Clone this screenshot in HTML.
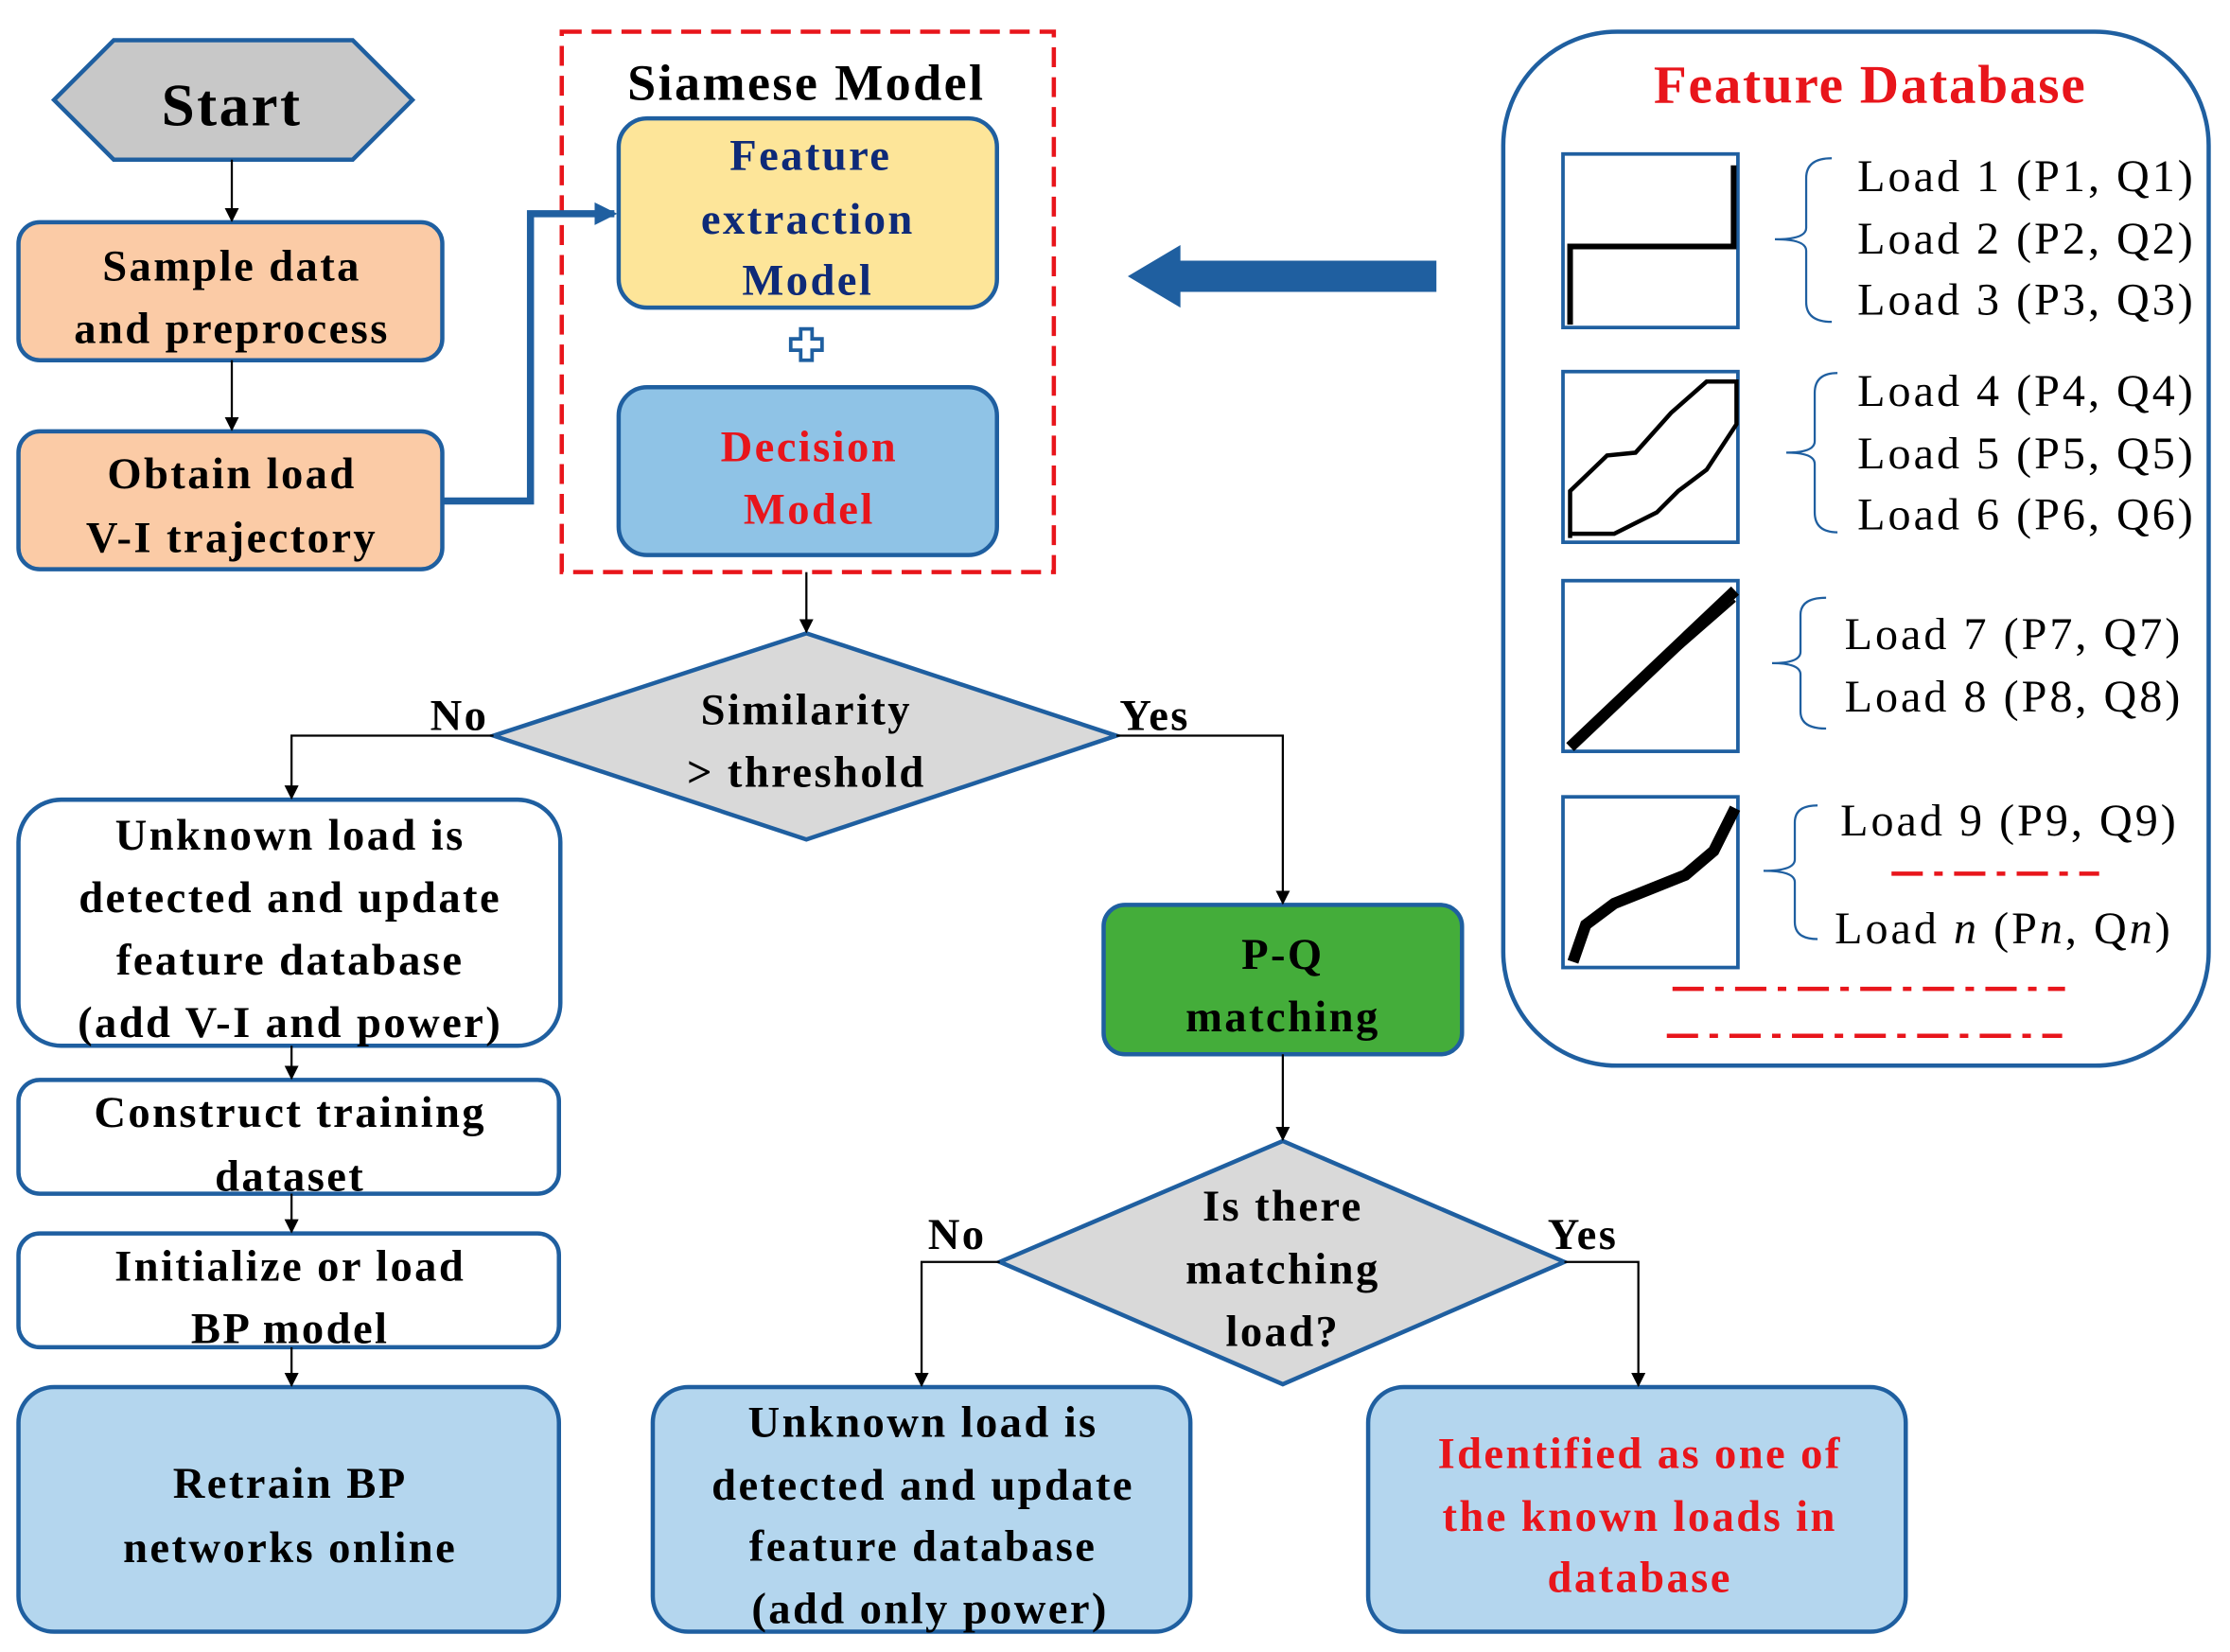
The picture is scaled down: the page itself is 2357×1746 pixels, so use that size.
<!DOCTYPE html>
<html><head><meta charset="utf-8"><style>html,body{margin:0;padding:0;background:#fff}svg{display:block}</style></head><body>
<svg width="2357" height="1746" viewBox="0 0 1568 1161" xmlns="http://www.w3.org/2000/svg" font-family="Liberation Serif, serif">
<defs>
<marker id="a" markerWidth="10" markerHeight="10" refX="9" refY="5" orient="auto" markerUnits="userSpaceOnUse"><path d="M0,0 L10,5 L0,10 z" fill="#000"/></marker>
<marker id="b" markerWidth="16" markerHeight="16" refX="14" refY="8" orient="auto" markerUnits="userSpaceOnUse"><path d="M0,0 L16,8 L0,16 z" fill="#1f5fa0"/></marker>
</defs>
<g stroke="#1f5fa0" stroke-width="3">
<polygon points="38,70 80,28 248,28 290,70 248,112 80,112" fill="#c8c8c8"/>
<rect x="13" y="156" width="298" height="97" rx="15" fill="#fbcba6"/>
<rect x="13" y="303" width="298" height="97" rx="15" fill="#fbcba6"/>
<rect x="435" y="83" width="266" height="133" rx="20" fill="#fde599"/>
<rect x="435" y="272" width="266" height="118" rx="20" fill="#8fc3e6"/>
<polygon points="347,517 567,445 785,517 567,590" fill="#d9d9d9"/>
<rect x="13" y="562" width="381" height="173" rx="30" fill="#fff"/>
<rect x="13" y="759" width="380" height="80" rx="15" fill="#fff"/>
<rect x="13" y="867" width="380" height="80" rx="15" fill="#fff"/>
<rect x="13" y="975" width="380" height="172" rx="25" fill="#b4d6ee"/>
<rect x="776" y="636" width="252" height="105" rx="15" fill="#44ad3a"/>
<polygon points="703,887 902,802 1100,887 902,973" fill="#d9d9d9"/>
<rect x="459" y="975" width="378" height="172" rx="25" fill="#b4d6ee"/>
<rect x="962" y="975" width="378" height="172" rx="25" fill="#b4d6ee"/>
<rect x="1057" y="22" width="496" height="727" rx="80" fill="#fff"/>
</g>
<rect x="395" y="22" width="346" height="380" fill="none" stroke="#e8151b" stroke-width="3" stroke-dasharray="14,7"/>
<path d="M556,238h7v-7h8v7h7v8h-7v7h-8v-7h-7z" fill="#fff" stroke="#1f5fa0" stroke-width="2.5"/>
<path d="M311,352H373V150H432" fill="none" stroke="#1f5fa0" stroke-width="5" marker-end="url(#b)"/>
<path d="M1010,183H830V172L793,194L830,216V205H1010z" fill="#1f5fa0"/>
<g stroke="#000" stroke-width="1.5" fill="none" marker-end="url(#a)">
<path d="M163,112V155"/><path d="M163,253V302"/>
<path d="M567,402V444"/>
<path d="M347,517H205V561"/><path d="M785,517H902V635"/>
<path d="M205,735V758"/><path d="M205,839V866"/><path d="M205,947V974"/>
<path d="M902,741V801"/>
<path d="M703,887H648V974"/><path d="M1100,887H1152V974"/>
</g>
<g font-weight="bold" text-anchor="middle" font-size="31" fill="#000" letter-spacing="1.6">
<text x="163" y="88" font-size="42">Start</text>
<text x="163" y="197">Sample data</text><text x="163" y="241">and preprocess</text>
<text x="163" y="343">Obtain load</text><text x="163" y="388">V-I trajectory</text>
<text x="567" y="70" font-size="36">Siamese Model</text>
<text x="570" y="119" fill="#0e2a78">Feature</text><text x="568" y="164" fill="#0e2a78">extraction</text><text x="568" y="207" fill="#0e2a78">Model</text>
<text x="569" y="324" fill="#e8151b">Decision</text><text x="569" y="368" fill="#e8151b">Model</text>
<text x="567" y="509">Similarity</text><text x="567" y="553">&gt; threshold</text>
<text x="323" y="513">No</text><text x="812" y="513">Yes</text>
<text x="204" y="597">Unknown load is</text><text x="204" y="641">detected and update</text><text x="204" y="685">feature database</text><text x="204" y="729">(add V-I and power)</text>
<text x="204" y="792">Construct training</text><text x="204" y="837">dataset</text>
<text x="204" y="900">Initialize or load</text><text x="204" y="944">BP model</text>
<text x="204" y="1053">Retrain BP</text><text x="204" y="1098">networks online</text>
<text x="902" y="681">P-Q</text><text x="902" y="725">matching</text>
<text x="902" y="858">Is there</text><text x="902" y="902">matching</text><text x="902" y="946">load?</text>
<text x="673" y="878">No</text><text x="1113" y="878">Yes</text>
<text x="649" y="1010">Unknown load is</text><text x="649" y="1054">detected and update</text><text x="649" y="1097">feature database</text><text x="654" y="1141">(add only power)</text>
<text x="1153" y="1032" fill="#e8151b">Identified as one of</text><text x="1153" y="1076" fill="#e8151b">the known loads in</text><text x="1153" y="1119" fill="#e8151b">database</text>
<text x="1315" y="72" font-size="38" fill="#e8151b" letter-spacing="1.2">Feature Database</text>
</g>
<g stroke="#1f5fa0" stroke-width="2.5" fill="#fff">
<rect x="1099" y="108" width="123" height="122"/><rect x="1099" y="261" width="123" height="120"/>
<rect x="1099" y="408" width="123" height="120"/><rect x="1099" y="560" width="123" height="120"/>
</g>
<g fill="none" stroke="#000">
<path d="M1104,228V173H1219V116" stroke-width="4"/>
<path d="M1104,378V345L1130,320L1150,318L1175,290L1200,268H1221V298L1200,330L1180,345L1165,360L1135,375H1105" stroke-width="3"/>
<path d="M1104,525L1220,415" stroke-width="8"/><path d="M1110,518L1220,422" stroke-width="2"/>
<path d="M1106,676L1115,650L1135,635L1160,625L1185,615L1205,598L1220,568" stroke-width="8"/>
</g>
<g font-size="32" fill="#000" letter-spacing="2">
<text x="1306" y="134">Load 1 (P1, Q1)</text><text x="1306" y="178">Load 2 (P2, Q2)</text><text x="1306" y="221">Load 3 (P3, Q3)</text>
<text x="1306" y="285">Load 4 (P4, Q4)</text><text x="1306" y="329">Load 5 (P5, Q5)</text><text x="1306" y="372">Load 6 (P6, Q6)</text>
<text x="1297" y="456">Load 7 (P7, Q7)</text><text x="1297" y="500">Load 8 (P8, Q8)</text>
<text x="1294" y="587">Load 9 (P9, Q9)</text><text x="1290" y="663">Load <tspan font-style="italic">n</tspan> (P<tspan font-style="italic">n</tspan>, Q<tspan font-style="italic">n</tspan>)</text>
</g>
<g fill="none" stroke="#1f5fa0" stroke-width="1.5">
<path d="M1288,111Q1270,111 1270,125V160Q1270,168 1248,168Q1270,168 1270,176V212Q1270,226 1288,226"/>
<path d="M1292,262Q1276,262 1276,276V310Q1276,318 1256,318Q1276,318 1276,326V360Q1276,374 1292,374"/>
<path d="M1284,420Q1266,420 1266,432V458Q1266,466 1246,466Q1266,466 1266,474V500Q1266,512 1284,512"/>
<path d="M1278,566Q1262,566 1262,578V604Q1262,612 1240,612Q1262,612 1262,620V648Q1262,660 1278,660"/>
</g>
<g stroke="#e8151b" stroke-width="3" stroke-dasharray="22,8,6,8">
<path d="M1330,614H1476"/><path d="M1176,695H1452"/><path d="M1172,728H1450"/>
</g>
</svg>
</body></html>
